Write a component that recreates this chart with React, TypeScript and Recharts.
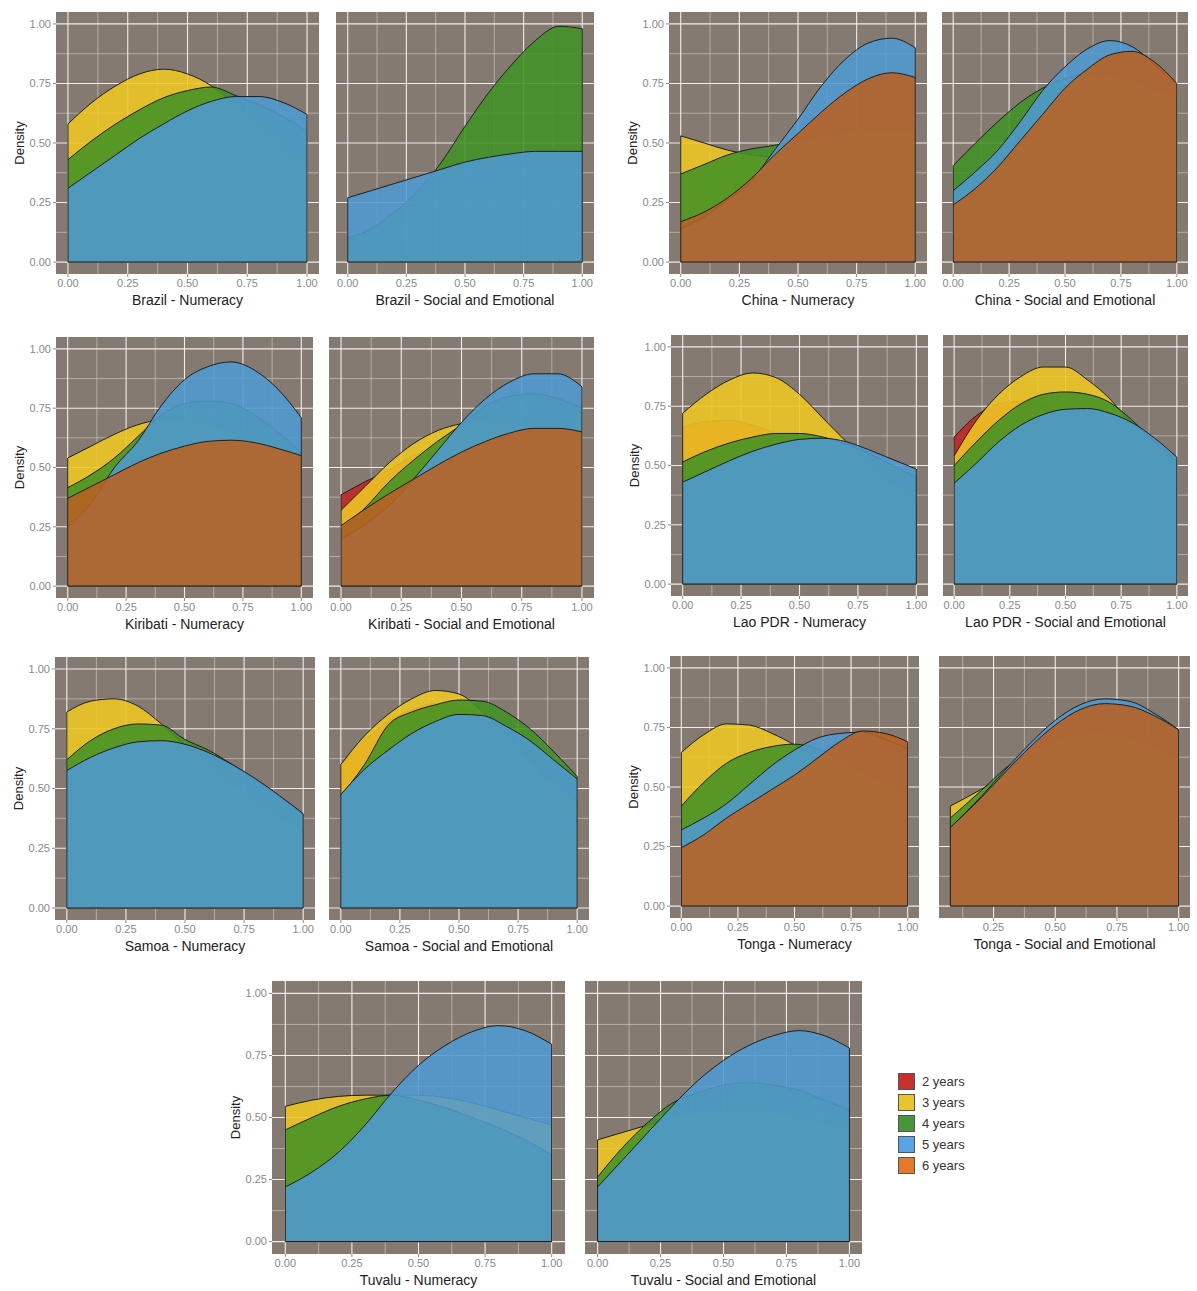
import React from "react";
import { AreaChart, Area, XAxis, YAxis, CartesianGrid, ReferenceLine } from "recharts";

const AGES = ["2 years", "3 years", "4 years", "5 years", "6 years"];
const FILLS = ["#bf2627", "#efc622", "#429225", "#4e9ad1", "#b96122"];
const LEGEND_FILLS = ["#c8302f", "#e8c52e", "#4a953a", "#5aa3e4", "#e4782c"];
const PANEL_BG = "#847a72";

const MAJOR = [0, 0.25, 0.5, 0.75, 1];
const MINOR = [0.125, 0.375, 0.625, 0.875];
const Y_DOMAIN: [number, number] = [-0.05, 1.05];

// density evaluated at these scores
const XS = [0, 0.1, 0.2, 0.3, 0.4, 0.5, 0.6, 0.7, 0.8, 0.9, 1];
const TONGA_SE_XS = [0.075, 0.2, 0.3, 0.4, 0.5, 0.6, 0.7, 0.8, 0.9, 1];

// Brazil
const brazilNum3 = [0.58, 0.67, 0.74, 0.79, 0.81, 0.79, 0.74, 0.66, 0.57, 0.48, 0.4];
const brazilNum4 = [0.43, 0.51, 0.58, 0.64, 0.69, 0.72, 0.735, 0.7, 0.66, 0.61, 0.55];
const brazilNum5 = [0.31, 0.38, 0.45, 0.52, 0.58, 0.635, 0.675, 0.695, 0.695, 0.67, 0.62];
const brazilSe4 = [0.1, 0.14, 0.21, 0.3, 0.42, 0.57, 0.71, 0.83, 0.93, 0.99, 0.98];
const brazilSe5 = [0.27, 0.3, 0.33, 0.36, 0.39, 0.42, 0.44, 0.455, 0.465, 0.465, 0.465];

// China
const chinaNum3 = [0.53, 0.5, 0.47, 0.45, 0.44, 0.43, 0.42, 0.41, 0.4, 0.39, 0.38];
const chinaNum4 = [0.37, 0.41, 0.45, 0.475, 0.49, 0.51, 0.53, 0.55, 0.56, 0.56, 0.55];
const chinaNum5 = [0.14, 0.19, 0.26, 0.34, 0.47, 0.6, 0.74, 0.85, 0.92, 0.94, 0.9];
const chinaNum6 = [0.17, 0.21, 0.27, 0.35, 0.45, 0.54, 0.63, 0.71, 0.77, 0.795, 0.775];
const chinaSe4 = [0.405, 0.5, 0.59, 0.67, 0.73, 0.77, 0.79, 0.79, 0.77, 0.73, 0.69];
const chinaSe5 = [0.3, 0.38, 0.47, 0.59, 0.72, 0.82, 0.895, 0.93, 0.905, 0.83, 0.74];
const chinaSe6 = [0.24, 0.31, 0.4, 0.51, 0.62, 0.73, 0.81, 0.87, 0.885, 0.84, 0.75];

// Kiribati
const kiribatiNum3 = [0.54, 0.59, 0.64, 0.68, 0.7, 0.7, 0.68, 0.65, 0.6, 0.55, 0.5];
const kiribatiNum4 = [0.415, 0.47, 0.54, 0.63, 0.72, 0.77, 0.78, 0.77, 0.72, 0.65, 0.56];
const kiribatiNum5 = [0.25, 0.35, 0.5, 0.61, 0.76, 0.87, 0.925, 0.945, 0.91, 0.83, 0.71];
const kiribatiNum6 = [0.37, 0.42, 0.47, 0.52, 0.56, 0.59, 0.61, 0.615, 0.605, 0.58, 0.55];
const kiribatiSe2 = [0.385, 0.44, 0.49, 0.55, 0.58, 0.6, 0.6, 0.58, 0.55, 0.5, 0.45];
const kiribatiSe3 = [0.32, 0.42, 0.52, 0.6, 0.655, 0.685, 0.7, 0.69, 0.66, 0.62, 0.57];
const kiribatiSe4 = [0.24, 0.33, 0.44, 0.53, 0.61, 0.68, 0.76, 0.8, 0.81, 0.79, 0.75];
const kiribatiSe5 = [0.2, 0.26, 0.34, 0.45, 0.57, 0.69, 0.79, 0.86, 0.895, 0.895, 0.84];
const kiribatiSe6 = [0.255, 0.325, 0.39, 0.45, 0.51, 0.565, 0.61, 0.645, 0.665, 0.665, 0.65];

// Lao PDR
const laoNum2 = [0.66, 0.685, 0.69, 0.67, 0.635, 0.59, 0.54, 0.49, 0.44, 0.39, 0.34];
const laoNum3 = [0.72, 0.8, 0.86, 0.89, 0.87, 0.8, 0.7, 0.6, 0.5, 0.42, 0.35];
const laoNum4 = [0.515, 0.56, 0.595, 0.62, 0.635, 0.635, 0.62, 0.59, 0.55, 0.5, 0.45];
const laoNum5 = [0.43, 0.475, 0.52, 0.56, 0.59, 0.61, 0.615, 0.6, 0.565, 0.525, 0.485];
const laoSe2 = [0.62, 0.71, 0.76, 0.77, 0.76, 0.73, 0.68, 0.62, 0.56, 0.5, 0.44];
const laoSe3 = [0.54, 0.69, 0.8, 0.875, 0.915, 0.915, 0.86, 0.78, 0.67, 0.6, 0.5];
const laoSe4 = [0.5, 0.6, 0.69, 0.76, 0.8, 0.81, 0.8, 0.765, 0.69, 0.6, 0.52];
const laoSe5 = [0.425, 0.51, 0.6, 0.67, 0.715, 0.737, 0.74, 0.72, 0.68, 0.615, 0.535];

// Samoa
const samoaNum3 = [0.82, 0.865, 0.875, 0.845, 0.77, 0.68, 0.6, 0.52, 0.45, 0.38, 0.32];
const samoaNum4 = [0.62, 0.7, 0.75, 0.77, 0.765, 0.705, 0.66, 0.6, 0.535, 0.465, 0.39];
const samoaNum5 = [0.575, 0.63, 0.67, 0.695, 0.7, 0.685, 0.65, 0.6, 0.54, 0.47, 0.395];
const samoaSe2 = [0.6, 0.7, 0.78, 0.83, 0.855, 0.84, 0.8, 0.72, 0.63, 0.54, 0.45];
const samoaSe3 = [0.6, 0.72, 0.81, 0.875, 0.91, 0.895, 0.82, 0.72, 0.62, 0.52, 0.44];
const samoaSe4 = [0.47, 0.6, 0.765, 0.82, 0.85, 0.87, 0.865, 0.82, 0.75, 0.655, 0.55];
const samoaSe5 = [0.475, 0.58, 0.66, 0.73, 0.78, 0.81, 0.805, 0.76, 0.7, 0.62, 0.54];

// Tonga
const tongaNum3 = [0.645, 0.72, 0.765, 0.76, 0.725, 0.675, 0.6, 0.52, 0.45, 0.4, 0.35];
const tongaNum4 = [0.42, 0.52, 0.6, 0.645, 0.67, 0.68, 0.66, 0.62, 0.57, 0.52, 0.47];
const tongaNum5 = [0.32, 0.37, 0.43, 0.51, 0.59, 0.655, 0.705, 0.725, 0.73, 0.7, 0.66];
const tongaNum6 = [0.245, 0.3, 0.37, 0.43, 0.49, 0.55, 0.62, 0.69, 0.735, 0.725, 0.69];
const tongaSe3 = [0.42, 0.49, 0.55, 0.6, 0.63, 0.64, 0.63, 0.6, 0.56, 0.5];
const tongaSe4 = [0.37, 0.485, 0.58, 0.65, 0.7, 0.73, 0.73, 0.71, 0.67, 0.62];
const tongaSe5 = [0.33, 0.46, 0.575, 0.685, 0.78, 0.845, 0.87, 0.86, 0.81, 0.74];
const tongaSe6 = [0.33, 0.455, 0.565, 0.67, 0.76, 0.825, 0.85, 0.84, 0.8, 0.74];

// Tuvalu
const tuvaluNum3 = [0.545, 0.57, 0.585, 0.59, 0.59, 0.59, 0.58, 0.56, 0.53, 0.5, 0.47];
const tuvaluNum4 = [0.45, 0.5, 0.545, 0.575, 0.59, 0.57, 0.54, 0.5, 0.46, 0.41, 0.35];
const tuvaluNum5 = [0.22, 0.28, 0.36, 0.47, 0.6, 0.71, 0.79, 0.845, 0.87, 0.85, 0.795];
const tuvaluSe3 = [0.41, 0.44, 0.47, 0.5, 0.52, 0.53, 0.53, 0.52, 0.5, 0.48, 0.45];
const tuvaluSe4 = [0.26, 0.38, 0.48, 0.56, 0.6, 0.63, 0.64, 0.63, 0.61, 0.57, 0.53];
const tuvaluSe5 = [0.22, 0.33, 0.44, 0.55, 0.65, 0.73, 0.79, 0.83, 0.85, 0.83, 0.78];

type PanelSpec = {
  title: string;
  x: number;
  y: number;
  w: number;
  h: number;
  showY: boolean;
  xs: number[];
  series: (number[] | null)[]; // 2..6 years
  xDomain?: [number, number];
  xTicks?: number[];
};

const panels: PanelSpec[] = [
  { title: "Brazil - Numeracy", x: 56, y: 12, w: 263, h: 261, showY: true, xs: XS, series: [null, brazilNum3, brazilNum4, brazilNum5, null] },
  { title: "Brazil - Social and Emotional", x: 336, y: 12, w: 258, h: 261, showY: false, xs: XS, series: [null, null, brazilSe4, brazilSe5, null] },
  { title: "China - Numeracy", x: 669, y: 12, w: 258, h: 261, showY: true, xs: XS, series: [null, chinaNum3, chinaNum4, chinaNum5, chinaNum6] },
  { title: "China - Social and Emotional", x: 942, y: 12, w: 246, h: 261, showY: false, xs: XS, series: [null, null, chinaSe4, chinaSe5, chinaSe6] },

  { title: "Kiribati - Numeracy", x: 56, y: 337, w: 257, h: 260, showY: true, xs: XS, series: [null, kiribatiNum3, kiribatiNum4, kiribatiNum5, kiribatiNum6] },
  { title: "Kiribati - Social and Emotional", x: 329, y: 337, w: 265, h: 260, showY: false, xs: XS, series: [kiribatiSe2, kiribatiSe3, kiribatiSe4, kiribatiSe5, kiribatiSe6] },
  { title: "Lao PDR - Numeracy", x: 671, y: 335, w: 257, h: 260, showY: true, xs: XS, series: [laoNum2, laoNum3, laoNum4, laoNum5, null] },
  { title: "Lao PDR - Social and Emotional", x: 943, y: 335, w: 245, h: 260, showY: false, xs: XS, series: [laoSe2, laoSe3, laoSe4, laoSe5, null] },

  { title: "Samoa - Numeracy", x: 55, y: 657, w: 260, h: 262, showY: true, xs: XS, series: [null, samoaNum3, samoaNum4, samoaNum5, null] },
  { title: "Samoa - Social and Emotional", x: 329, y: 657, w: 260, h: 262, showY: false, xs: XS, series: [samoaSe2, samoaSe3, samoaSe4, samoaSe5, null] },
  { title: "Tonga - Numeracy", x: 670, y: 656, w: 249, h: 261, showY: true, xs: XS, series: [null, tongaNum3, tongaNum4, tongaNum5, tongaNum6] },
  {
    title: "Tonga - Social and Emotional", x: 939, y: 656, w: 251, h: 261, showY: false, xs: TONGA_SE_XS,
    series: [null, tongaSe3, tongaSe4, tongaSe5, tongaSe6], xDomain: [0.029, 1.046], xTicks: [0.25, 0.5, 0.75, 1],
  },

  { title: "Tuvalu - Numeracy", x: 272, y: 981, w: 293, h: 272, showY: true, xs: XS, series: [null, tuvaluNum3, tuvaluNum4, tuvaluNum5, null] },
  { title: "Tuvalu - Social and Emotional", x: 585, y: 981, w: 277, h: 272, showY: false, xs: XS, series: [null, tuvaluSe3, tuvaluSe4, tuvaluSe5, null] },
];

const LINE = "#1e1e1e";

const inside = (vals: number[], d: [number, number]) => vals.filter((v) => v > d[0] && v < d[1]);

// grid line positions from the plot offset, same linear mapping as the axes
const xGrid = (vals: number[], d: [number, number]) => (props: any) => {
  const o = props.offset;
  return inside(vals, d).map((v) => o.left + ((v - d[0]) / (d[1] - d[0])) * o.width);
};
const yGrid = (vals: number[]) => (props: any) => {
  const o = props.offset;
  return inside(vals, Y_DOMAIN).map((v) => o.top + ((Y_DOMAIN[1] - v) / (Y_DOMAIN[1] - Y_DOMAIN[0])) * o.height);
};

const Panel = ({ spec }: { spec: PanelSpec }) => {
  const L = 55;
  const T = 5;
  const R = 5;
  const B = 36;
  const xDomain = spec.xDomain ?? [-0.05, 1.05];
  const rows = spec.xs.map((xv, i) => {
    const row: Record<string, number> = { x: xv };
    spec.series.forEach((s, k) => {
      if (s) row["s" + k] = s[i];
    });
    return row;
  });
  const present = spec.series.filter(Boolean) as number[][];
  const leftTop = Math.max(...present.map((s) => s[0]));
  const rightTop = Math.max(...present.map((s) => s[s.length - 1]));
  const xStart = spec.xs[0];
  const xEnd = spec.xs[spec.xs.length - 1];

  return (
    <div style={{ position: "absolute", left: spec.x - L, top: spec.y - T }}>
      <AreaChart
        width={spec.w + L + R}
        height={spec.h + T + B}
        data={rows}
        margin={{ top: T, right: R, left: 10, bottom: 4 }}
      >
        <CartesianGrid
          fill={PANEL_BG}
          fillOpacity={1}
          stroke="#d6cec7"
          strokeWidth={0.6}
          horizontalCoordinatesGenerator={yGrid(MINOR)}
          verticalCoordinatesGenerator={xGrid(MINOR, xDomain)}
        />
        <CartesianGrid
          stroke="#f1ede9"
          strokeWidth={1.1}
          horizontalCoordinatesGenerator={yGrid(MAJOR)}
          verticalCoordinatesGenerator={xGrid(MAJOR, xDomain)}
        />
        <XAxis
          type="number"
          dataKey="x"
          domain={xDomain}
          ticks={spec.xTicks ?? MAJOR}
          allowDataOverflow
          interval={0}
          tickFormatter={(v: number) => v.toFixed(2)}
          axisLine={false}
          tickLine={{ stroke: "#8c8c8c" }}
          tickSize={3}
          tickMargin={2}
          tick={{ fontSize: 11, fill: "#8a8a8a" }}
          height={31}
          label={{ value: spec.title, position: "insideBottom", offset: 0, style: { fontSize: 14, fill: "#222" } }}
        />
        <YAxis
          type="number"
          domain={Y_DOMAIN}
          ticks={MAJOR}
          allowDataOverflow
          interval={0}
          width={45}
          axisLine={false}
          tickLine={spec.showY ? { stroke: "#8c8c8c" } : false}
          tick={spec.showY ? { fontSize: 11, fill: "#8a8a8a" } : false}
          tickSize={3}
          tickMargin={2}
          tickFormatter={(v: number) => v.toFixed(2)}
          label={
            spec.showY
              ? { value: "Density", angle: -90, position: "insideLeft", offset: 8, style: { textAnchor: "middle", fontSize: 13, fill: "#222" } }
              : undefined
          }
        />
        {spec.series.map((s, k) =>
          s ? (
            <Area
              key={AGES[k]}
              name={AGES[k]}
              type="monotone"
              dataKey={"s" + k}
              baseValue={0}
              stroke={LINE}
              strokeWidth={1}
              fill={FILLS[k]}
              fillOpacity={0.88}
              dot={false}
              activeDot={false}
              isAnimationActive={false}
            />
          ) : null
        )}
        <ReferenceLine segment={[{ x: xStart, y: 0 }, { x: xEnd, y: 0 }]} stroke={LINE} strokeWidth={1.2} />
        <ReferenceLine segment={[{ x: xStart, y: 0 }, { x: xStart, y: leftTop }]} stroke={LINE} strokeWidth={1} />
        <ReferenceLine segment={[{ x: xEnd, y: 0 }, { x: xEnd, y: rightTop }]} stroke={LINE} strokeWidth={1} />
      </AreaChart>
    </div>
  );
};

const AgeLegend = () => (
  <div style={{ position: "absolute", left: 898, top: 1071 }}>
    {AGES.map((a, i) => (
      <div key={a} style={{ display: "flex", alignItems: "center", height: 21 }}>
        <div
          style={{
            width: 15,
            height: 15,
            background: LEGEND_FILLS[i],
            border: "1px solid #555",
            marginRight: 7,
          }}
        />
        <span style={{ fontSize: 13, color: "#333" }}>{a}</span>
      </div>
    ))}
  </div>
);

export default function App() {
  return (
    <div
      style={{
        position: "absolute",
        left: 0,
        top: 0,
        width: 1197,
        height: 1291,
        background: "#fff",
        fontFamily: "'Liberation Sans', Arial, sans-serif",
      }}
    >
      {panels.map((p) => (
        <Panel key={p.title} spec={p} />
      ))}
      <AgeLegend />
    </div>
  );
}
